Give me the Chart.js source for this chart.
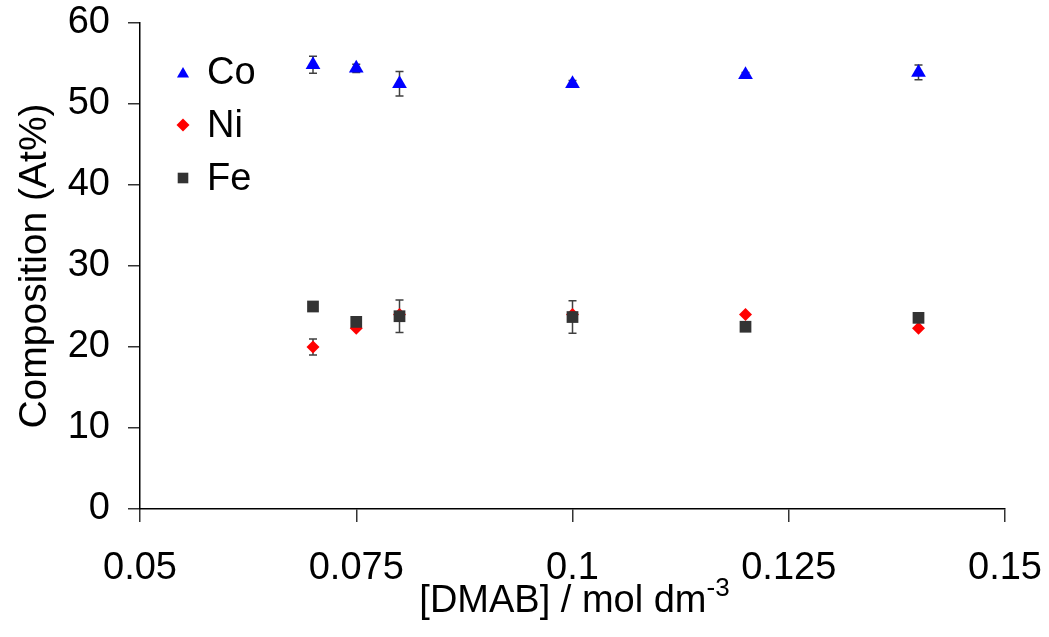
<!DOCTYPE html>
<html lang="en">
<head>
<meta charset="UTF-8">
<title>Composition vs DMAB</title>
<script src="https://cdn.jsdelivr.net/npm/chart.js"></script>
<style>
  html, body { margin: 0; padding: 0; background: #fff; }
  .chart-container { width: 1049px; height: 637px; position: relative; }
</style>
</head>
<body>
<div class="chart-container"><canvas id="compChart"></canvas></div>
<script>
const dmab = [0.07, 0.075, 0.08, 0.1, 0.12, 0.14];
const co = [54.85, 54.4, 52.5, 52.5, 53.6, 53.9];
const coErr = [1.05, 0.5, 1.5, 0.4, 0.3, 0.9];
const ni = [20.0, 22.3, 24.0, 24.0, 24.0, 22.3];
const niErr = [1.0, 0, 0, 0, 0, 0];
const fe = [25.0, 23.1, 23.8, 23.7, 22.5, 23.6];
const feErr = [0, 0.6, 2.0, 2.0, 0, 0];
const xTickLabels = ['0.05', '0.075', '0.1', '0.125', '0.15'];
const yTickLabels = ['0', '10', '20', '30', '40', '50', '60'];

const FONT = 'Arial, "Liberation Sans", sans-serif';

const toPoints = (vals) => vals.map((v, i) => ({ x: dmab[i], y: v }));

const errorBars = {
  id: 'errorBars',
  beforeDatasetsDraw(chart) {
    const { ctx, scales: { x, y } } = chart;
    ctx.save();
    ctx.strokeStyle = '#404040';
    ctx.lineWidth = 1.5;
    chart.data.datasets.forEach(ds => {
      (ds.errors || []).forEach((e, i) => {
        if (!e) return;
        const px = x.getPixelForValue(dmab[i]);
        const top = y.getPixelForValue(ds.data[i].y + e);
        const bot = y.getPixelForValue(ds.data[i].y - e);
        ctx.beginPath();
        ctx.moveTo(px, top); ctx.lineTo(px, bot);
        ctx.moveTo(px - 4, top); ctx.lineTo(px + 4, top);
        ctx.moveTo(px - 4, bot); ctx.lineTo(px + 4, bot);
        ctx.stroke();
      });
    });
    ctx.restore();
  }
};

const legendAndTitle = {
  id: 'legendAndTitle',
  afterDraw(chart) {
    const { ctx, chartArea } = chart;
    ctx.save();
    // legend inside the plot
    chart.data.datasets.forEach((ds, i) => {
      const cy = 72 + i * 53;
      ctx.fillStyle = ds.backgroundColor;
      ctx.strokeStyle = ds.borderColor;
      Chart.helpers.drawPoint(ctx, { pointStyle: ds.pointStyle, radius: ds.legendRadius, borderWidth: 0 }, 183, cy + (ds.pointStyle === 'triangle' ? 2 : 0));
      ctx.fillStyle = '#000';
      ctx.font = '38px ' + FONT;
      ctx.textBaseline = 'middle';
      ctx.textAlign = 'left';
      ctx.fillText(ds.label, 207, cy + 2);
    });
    // x axis title with superscript
    const main = '[DMAB] / mol dm';
    const sup = '-3';
    ctx.font = '38px ' + FONT;
    const w1 = ctx.measureText(main).width;
    ctx.font = '26px ' + FONT;
    const w2 = ctx.measureText(sup).width;
    const x0 = (chartArea.left + chartArea.right) / 2 - (w1 + w2) / 2 + 2;
    ctx.fillStyle = '#000';
    ctx.textBaseline = 'alphabetic';
    ctx.textAlign = 'left';
    ctx.font = '38px ' + FONT;
    ctx.fillText(main, x0, 612);
    ctx.font = '26px ' + FONT;
    ctx.fillText(sup, x0 + w1, 596);
    ctx.restore();
  }
};

const ctx = document.getElementById('compChart').getContext('2d');
new Chart(ctx, {
  type: 'scatter',
  data: {
    datasets: [
      { label: 'Co', data: toPoints(co), errors: coErr, pointStyle: 'triangle', radius: 8.5, legendRadius: 7,
        backgroundColor: '#0000FF', borderColor: '#0000FF', borderWidth: 0, order: 0 },
      { label: 'Ni', data: toPoints(ni), errors: niErr, pointStyle: 'rectRot', radius: 6.5, legendRadius: 6.5,
        backgroundColor: '#FF0000', borderColor: '#FF0000', borderWidth: 0, order: 2 },
      { label: 'Fe', data: toPoints(fe), errors: feErr, pointStyle: 'rect', radius: 8.3, legendRadius: 7.5,
        backgroundColor: '#333333', borderColor: '#333333', borderWidth: 0, order: 1 }
    ]
  },
  options: {
    responsive: true,
    maintainAspectRatio: false,
    animation: false,
    layout: { padding: { top: 23, right: 44, left: 0, bottom: 0 } },
    plugins: { legend: { display: false }, tooltip: { enabled: false } },
    scales: {
      x: {
        type: 'linear', min: 0.05, max: 0.15,
        afterFit: s => { s.height = 128; s.paddingLeft = 0; s.paddingRight = 0; },
        afterBuildTicks: s => { s.ticks = xTickLabels.map(t => ({ value: parseFloat(t) })); },
        ticks: { callback: (v, i) => xTickLabels[i], font: { size: 38, family: FONT }, color: '#000', padding: 24, maxRotation: 0 },
        grid: { drawOnChartArea: false, drawTicks: true, tickLength: 13, color: '#333', lineWidth: 1.5 },
        border: { display: true, color: '#000', width: 1.5 }
      },
      y: {
        min: 0, max: 60,
        afterFit: s => { s.width = 140; s.paddingTop = 0; s.paddingBottom = 0; },
        afterBuildTicks: s => { s.ticks = yTickLabels.map(t => ({ value: parseFloat(t) })); },
        ticks: { callback: (v, i) => yTickLabels[i], font: { size: 38, family: FONT }, color: '#000', padding: 18 },
        grid: { drawOnChartArea: false, drawTicks: true, tickLength: 12, color: '#333', lineWidth: 1.5 },
        border: { display: true, color: '#000', width: 1.5 },
        title: { display: true, text: 'Composition (At%)', font: { size: 39, family: FONT }, color: '#000', padding: { top: 12, bottom: 5 } }
      }
    }
  },
  plugins: [errorBars, legendAndTitle]
});
</script>
</body>
</html>
